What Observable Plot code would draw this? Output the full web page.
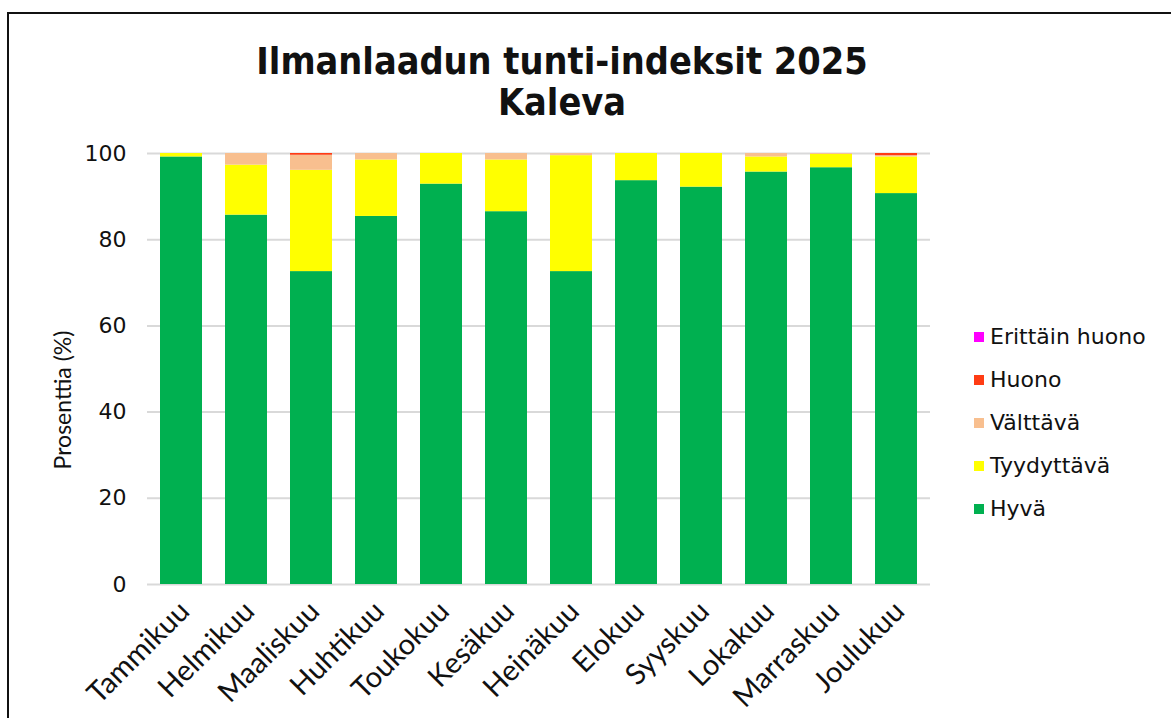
<!DOCTYPE html>
<html>
<head>
<meta charset="utf-8">
<script src="https://cdn.jsdelivr.net/npm/d3@7"></script>
<script src="https://cdn.jsdelivr.net/npm/@observablehq/plot@0.6"></script>
<style>
  html, body { margin: 0; padding: 0; background: #fff; }
  body { width: 1171px; height: 718px; overflow: hidden; position: relative; }
  #frame { position: absolute; left: 7px; top: 12px; width: 1200px; height: 760px; border: 2px solid #111; box-sizing: border-box; }
  #title { position: absolute; left: 0; width: 1124px; top: 41px; text-align: center;
           font-family: "DejaVu Sans Condensed", "DejaVu Sans", sans-serif; font-weight: bold; font-size: 37.5px; line-height: 41px; color: #111; }
  #ylabel { position: absolute; left: 62px; top: 400px; transform: translate(-50%, -50%) rotate(-90deg);
            font-family: Lato, "Open Sans", sans-serif; font-size: 23px; white-space: nowrap; color: #111; }
  #legend { position: absolute; left: 974px; top: 315px; font-family: "DejaVu Sans", sans-serif; font-size: 22px; color: #111; }
  #legend .item { height: 43px; display: flex; align-items: center; }
  #legend .sw { width: 10px; height: 10px; margin-right: 6px; }
  #chart { position: absolute; left: 0; top: 0; }
</style>
</head>
<body>
<div id="frame"></div>
<div id="chart"></div>
<div id="title">Ilmanlaadun tunti-indeksit 2025<br>Kaleva</div>
<div id="ylabel">Prosenttia (%)</div>
<div id="legend"></div>
<script>
const months = ["Tammikuu","Helmikuu","Maaliskuu","Huhtikuu","Toukokuu","Kesäkuu","Heinäkuu","Elokuu","Syyskuu","Lokakuu","Marraskuu","Joulukuu"];
const categories = ["Hyvä","Tyydyttävä","Välttävä","Huono","Erittäin huono"];
const colors = ["#00b050","#ffff00","#f8bf8f","#ff3c14","#ff00ff"];
const hyva     = [99.2, 85.7, 72.6, 85.4, 92.9, 86.5, 72.6, 93.7, 92.2, 95.7, 96.7, 90.7];
const tyyd     = [0.8, 11.6, 23.5, 13.1, 7.1, 12.0, 26.9, 6.3, 7.8, 3.5, 3.1, 8.5];
const valtt    = [0, 2.7, 3.5, 1.5, 0, 1.5, 0.5, 0, 0, 0.8, 0.2, 0.3];
const huono    = [0, 0, 0.4, 0, 0, 0, 0, 0, 0, 0, 0, 0.5];
const erittain = [0, 0, 0, 0, 0, 0, 0, 0, 0, 0, 0, 0];
const yTicks = [0, 20, 40, 60, 80, 100];

const series = [hyva, tyyd, valtt, huono, erittain];
const data = [];
months.forEach((m, i) => {
  series.forEach((s, k) => data.push({month: m, category: categories[k], value: s[i]}));
});

const chart = Plot.plot({
  width: 1171,
  height: 718,
  marginLeft: 147,
  marginRight: 241,
  marginTop: 153,
  marginBottom: 134,
  x: {domain: months, paddingInner: 0.35, paddingOuter: 0.175, label: null, axis: null},
  y: {domain: [0, 100], label: null},
  color: {domain: categories, range: colors},
  marks: [
    Plot.gridY(yTicks, {stroke: "#d9d9d9", strokeOpacity: 1, strokeWidth: 2}),
    Plot.barY(data, {x: "month", y: "value", fill: "category", order: categories}),
    Plot.axisY(yTicks, {tickSize: 0, tickPadding: 21, fontSize: 22, fontFamily: "DejaVu Sans", fill: "#111", label: null}),
    Plot.text(months, {x: d => d, frameAnchor: "bottom", rotate: -45, textAnchor: "end", lineAnchor: "middle",
      dx: 3, dy: 22, fontSize: 29, fontFamily: "Lato", fill: "#111"})
  ]
});
document.getElementById("chart").appendChild(chart);

const legend = document.getElementById("legend");
[...categories].reverse().forEach(c => {
  const item = document.createElement("div");
  item.className = "item";
  const sw = document.createElement("span");
  sw.className = "sw";
  sw.style.background = colors[categories.indexOf(c)];
  const t = document.createElement("span");
  t.textContent = c;
  item.appendChild(sw); item.appendChild(t);
  legend.appendChild(item);
});
</script>
</body>
</html>
